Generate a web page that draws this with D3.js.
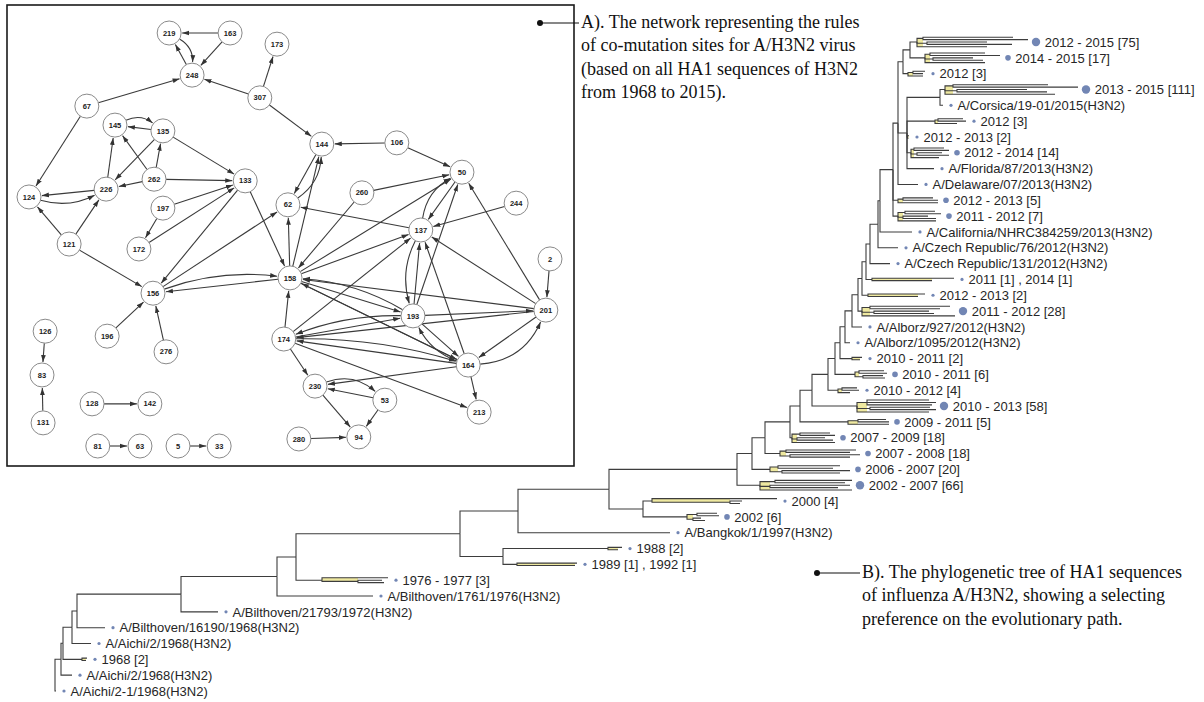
<!DOCTYPE html>
<html>
<head>
<meta charset="utf-8">
<script src="https://cdn.jsdelivr.net/npm/d3@7"></script>
<style>
  body { margin: 0; background: #fff; }
  svg { display: block; }
</style>
</head>
<body>
<svg id="fig" width="1204" height="702"></svg>
<script>
// ---------------- Panel A: co-mutation network ----------------
// node id, layout x, layout y (layout space 0..100)
const networkNodes = [
  ["219",26.9,0],["163",38.6,0],["248",31.3,10.2],["173",47.6,2.7],["307",44.3,15.7],
  ["67",11.1,17.7],["145",16.5,22.3],["135",25.7,23.7],["124",0,39.7],["226",14.8,37.8],
  ["262",24.0,35.4],["133",41.5,35.8],["197",25.7,42.4],["62",49.7,41.6],["144",56.2,26.9],
  ["106",70.6,26.6],["50",83.1,33.7],["260",63.9,38.7],["244",93.5,41.2],["137",75.2,47.7],
  ["121",7.7,51.1],["172",21.1,52.3],["156",23.8,63.0],["158",50.1,59.3],["126",3.1,72.2],
  ["83",2.5,82.8],["196",15.0,73.4],["276",26.3,77.2],["174",48.9,74.1],["128",12.1,89.8],
  ["142",23.2,89.8],["131",2.7,94.4],["81",13.2,100],["63",21.3,100],["5",28.6,100],
  ["33",36.5,100],["2",100,54.7],["193",73.7,68.5],["201",99.2,67.1],["164",84.3,80.4],
  ["230",54.9,85.5],["53",68.3,88.9],["213",86.4,91.8],["280",51.8,98.3],["94",63.3,97.8]
];

// rule: source -> target, bend (0 = straight)
const networkRules = [
  ["163","219",0],["219","248",0.3],["248","219",0],["163","248",0],["67","248",0],
  ["307","248",0],["307","173",0],["307","144",0],["67","124",0],
  ["145","135",0.3],["135","145",0],["135","226",0],["135","133",0],["262","145",0],
  ["262","135",0],["262","226",0],["262","133",0],["226","145",0],["226","124",0],
  ["124","226",-0.2],["121","124",0],["121","226",0],["121","156",0],
  ["197","133",0],["197","172",0],["172","133",0],["133","156",0],["133","158",0],
  ["196","156",0],["276","156",0],["156","158",0.12],["158","156",0],["156","62",0],
  ["144","62",0],["62","144",-0.25],["158","62",0],["158","144",0],["106","144",0],
  ["106","50",0],["260","50",0],["260","158",0],["137","62",0],["244","137",0],
  ["50","137",0],["137","50",0.25],["193","50",0],["201","50",0],["158","50",0],
  ["158","137",0],["174","137",0],["2","201",0],["201","137",0],["201","158",0],
  ["193","201",0],["201","174",0],["201","164",0],["164","201",-0.3],["164","137",0],
  ["193","137",0],["137","193",-0.2],["193","164",0],["164","193",0.2],["164","213",0],
  ["164","230",0],["164","174",0],["174","164",0.08],["158","164",0],["164","158",0],
  ["158","193",0],["193","158",-0.12],["174","193",0],["193","174",-0.1],["174","158",0],
  ["174","230",0],["174","213",0],["230","53",0.3],["53","230",0],["230","94",0],
  ["53","94",0],["280","94",0],["126","83",0],["131","83",0],["128","142",0],
  ["81","63",0],["5","33",0]
];

const captionA = [
  "A). The network representing the rules",
  "of co-mutation sites for A/H3N2 virus",
  "(based on all HA1 sequences of H3N2",
  "from 1968 to 2015)."
];
const captionB = [
  "B). The phylogenetic tree of HA1 sequences",
  "of influenza A/H3N2, showing a selecting",
  "preference on the evolutionary path."
];

// ---------------- Panel B: HA1 phylogenetic tree ----------------
// Tip / collapsed-clade labels, top to bottom (node ids L1..L42)
const leafLabels = [
  "2012 - 2015 [75]","2014 - 2015 [17]","2012 [3]","2013 - 2015 [111]",
  "A/Corsica/19-01/2015(H3N2)","2012 [3]","2012 - 2013 [2]","2012 - 2014 [14]",
  "A/Florida/87/2013(H3N2)","A/Delaware/07/2013(H3N2)","2012 - 2013 [5]","2011 - 2012 [7]",
  "A/California/NHRC384259/2013(H3N2)","A/Czech Republic/76/2012(H3N2)",
  "A/Czech Republic/131/2012(H3N2)","2011 [1] , 2014 [1]","2012 - 2013 [2]",
  "2011 - 2012 [28]","A/Alborz/927/2012(H3N2)","A/Alborz/1095/2012(H3N2)",
  "2010 - 2011 [2]","2010 - 2011 [6]","2010 - 2012 [4]","2010 - 2013 [58]",
  "2009 - 2011 [5]","2007 - 2009 [18]","2007 - 2008 [18]","2006 - 2007 [20]",
  "2002 - 2007 [66]","2000 [4]","2002 [6]","A/Bangkok/1/1997(H3N2)","1988 [2]",
  "1989 [1] , 1992 [1]","1976 - 1977 [3]","A/Bilthoven/1761/1976(H3N2)",
  "A/Bilthoven/21793/1972(H3N2)","A/Bilthoven/16190/1968(H3N2)","A/Aichi/2/1968(H3N2)",
  "1968 [2]","A/Aichi/2/1968(H3N2)","A/Aichi/2-1/1968(H3N2)"
];

// node id, parent id, branch length (x1e-4 substitutions/site); null id = unnamed tip
const treeBranches = [
  ["root",null,0],
  ["N1","root",6],["L42","root",1],
  ["N2","N1",2],["L41","N1",11],
  ["N3","N2",9],["L40","N2",19],[null,"L40",5],[null,"L40",4],
  ["N4","N3",5],["L39","N3",19],
  ["N5","N4",104],["L38","N4",28],
  ["N6","N5",96],["L37","N5",37],
  ["N7","N6",19],["L36","N6",96],
  ["N8","N7",164],["L35","N7",26],[null,"L35",66],["L35.1","L35",36],[null,"L35.1",24],[null,"L35.1",26],
  ["N9","N8",58],["N10","N8",43],
  ["N11","N9",91],["L32","N9",152],
  ["L33","N10",105],[null,"L33",14],[null,"L33",10],
  ["L34","N10",14],[null,"L34",60],[null,"L34",58],
  ["N12","N11",128],["N13","N11",34],
  ["L30","N13",9],[null,"L30",125],["L30.1","L30",78],[null,"L30.1",12],[null,"L30.1",10],
  ["L31","N13",44],["L31.1","L31",10],[null,"L31.1",20],[null,"L31.1",22],["L31.2","L31",6],[null,"L31.2",8],[null,"L31.2",12],
  ["S1","N12",15],["L29","N12",23],
  ["L29.1","L29",15],[null,"L29.1",77],[null,"L29.1",70],["L29.2","L29",10],[null,"L29.2",80],[null,"L29.2",68],[null,"L29",92],
  ["S2","S1",13],["L28","S1",18],
  ["L28.1","L28",8],[null,"L28.1",62],[null,"L28.1",55],["L28.2","L28",12],[null,"L28.2",68],[null,"L28.2",58],
  ["S3","S2",25],["L27","S2",15],
  ["L27.1","L27",6],[null,"L27.1",70],[null,"L27.1",64],["L27.2","L27",10],[null,"L27.2",70],[null,"L27.2",60],
  ["S4","S3",10],["L26","S3",2],
  ["L26.1","L26",8],[null,"L26.1",30],[null,"L26.1",35],["L26.2","L26",5],[null,"L26.2",28],[null,"L26.2",36],[null,"L26",43],
  ["S5","S4",12],["L25","S4",48],
  ["L25.1","L25",10],[null,"L25.1",28],[null,"L25.1",31],[null,"L25",41],
  ["S6","S5",16],["L24","S5",45],
  ["L24.1","L24",10],[null,"L24.1",62],[null,"L24.1",69],[null,"L24.1",65],["L24.2","L24",13],[null,"L24.2",60],[null,"L24.2",66],[null,"L24",72],
  ["S7","S6",7],["L23","S6",10],
  ["L23.1","L23",4],[null,"L23.1",15],[null,"L23.1",17],[null,"L23",12],
  ["S8","S7",5],["L22","S7",20],
  ["L22.1","L22",4],[null,"L22.1",25],[null,"L22.1",28],["L22.2","L22",8],[null,"L22.2",20],[null,"L22.2",22],
  ["S9","S8",5],["L21","S8",12],[null,"L21",10],[null,"L21",8],
  ["S10","S9",7],["L20","S9",5],
  ["S11","S10",6],["L19","S10",10],
  ["S12","S11",4],["L18","S11",4],
  ["L18.1","L18",8],[null,"L18.1",80],[null,"L18.1",70],["L18.2","L18",12],[null,"L18.2",55],[null,"L18.2",60],[null,"L18",93],
  ["S13","S12",4],["L17","S12",6],[null,"L17",57],[null,"L17",50],
  ["S14","S13",4],["L16","S13",6],[null,"L16",82],[null,"L16",60],
  ["S15","S14",8],["L15","S14",20],
  ["S16","S15",2],["L14","S15",20],
  ["S17","S16",13],["L13","S16",32],
  ["U","S17",5],
  ["L11","S17",5],["L11.1","L11",5],[null,"L11.1",30],[null,"L11.1",35],[null,"L11",40],
  ["L12","S17",5],["L12.1","L12",7],[null,"L12.1",30],[null,"L12.1",36],["L12.2","L12",5],[null,"L12.2",25],[null,"L12.2",33],[null,"L12",38],
  ["TA","U",5],["TB","U",9],["L10","U",20],
  ["TC","TA",7],["L3","TA",5],["L3.1","L3",5],[null,"L3.1",12],[null,"L3.1",10],[null,"L3",15],
  ["L1","TC",7],["L1.1","L1",6],[null,"L1.1",90],[null,"L1.1",105],["L1.2","L1",10],[null,"L1.2",60],[null,"L1.2",85],[null,"L1",70],
  ["L2","TC",15],["L2.1","L2",5],[null,"L2.1",55],[null,"L2.1",70],["L2.2","L2",8],[null,"L2.2",40],[null,"L2.2",50],[null,"L2",60],
  ["TD","TB",33],
  ["L6","TB",28],["L6.1","L6",3],[null,"L6.1",25],[null,"L6.1",28],[null,"L6",22],
  ["L7","TB",0.5],[null,"L7",1.5],[null,"L7",1],
  ["L8","TB",4],["L8.1","L8",3],[null,"L8.1",30],[null,"L8.1",35],["L8.2","L8",6],[null,"L8.2",25],[null,"L8.2",32],[null,"L8",28],
  ["L9","TB",27],
  ["L4","TD",5],["L4.1","L4",8],[null,"L4.1",95],[null,"L4.1",125],["L4.2","L4",12],[null,"L4.2",70],[null,"L4.2",90],[null,"L4",110],
  ["L5","TD",3]
];

// ---------------- drawing ----------------
const svg = d3.select("#fig");
const SANS = "'Liberation Sans', Arial, sans-serif";
const SERIF = "'Liberation Serif', 'Times New Roman', serif";

// ---- network panel ----
const box = {x: 7, y: 5, w: 567, h: 461};
svg.append("rect").attr("x", box.x).attr("y", box.y).attr("width", box.w).attr("height", box.h)
  .attr("fill", "#fff").attr("stroke", "#1a1a1a").attr("stroke-width", 1.6);

const nx = d3.scaleLinear().domain([0, 100]).range([29, 550]);
const ny = d3.scaleLinear().domain([0, 100]).range([33, 446]);
const R = 12;
const pos = new Map(networkNodes.map(([id, a, b]) => [id, {x: nx(a), y: ny(b)}]));

const defs = svg.append("defs");
defs.append("marker").attr("id", "arrow")
  .attr("viewBox", "0 -3 8 6").attr("refX", 8).attr("refY", 0)
  .attr("markerWidth", 7).attr("markerHeight", 5.4)
  .attr("markerUnits", "userSpaceOnUse").attr("orient", "auto")
  .append("path").attr("d", "M0,-2.7L8,0L0,2.7Z").attr("fill", "#333");

function unit(dx, dy) { const l = Math.hypot(dx, dy) || 1; return [dx / l, dy / l]; }

function rulePath([s, t, bend]) {
  const p = pos.get(s), q = pos.get(t);
  const dx = q.x - p.x, dy = q.y - p.y, L = Math.hypot(dx, dy);
  if (!bend) {
    const [ux, uy] = unit(dx, dy);
    return `M${p.x + ux * R},${p.y + uy * R}L${q.x - ux * (R + 1)},${q.y - uy * (R + 1)}`;
  }
  const cx = (p.x + q.x) / 2 + bend * dy, cy = (p.y + q.y) / 2 - bend * dx;
  const [ax, ay] = unit(cx - p.x, cy - p.y);
  const [bx, by] = unit(q.x - cx, q.y - cy);
  return `M${p.x + ax * R},${p.y + ay * R}Q${cx},${cy} ${q.x - bx * (R + 1)},${q.y - by * (R + 1)}`;
}

const gNet = svg.append("g");
gNet.selectAll("path.rule").data(networkRules).join("path")
  .attr("class", "rule").attr("d", rulePath)
  .attr("fill", "none").attr("stroke", "#3a3a3a").attr("stroke-width", 1.1)
  .attr("marker-end", "url(#arrow)");

const gn = gNet.selectAll("g.site").data(networkNodes).join("g")
  .attr("class", "site").attr("transform", d => `translate(${nx(d[1])},${ny(d[2])})`);
gn.append("circle").attr("r", R).attr("fill", "#fff").attr("stroke", "#8a8a8a").attr("stroke-width", 1);
gn.append("text").text(d => d[0]).attr("text-anchor", "middle").attr("dy", "0.35em")
  .attr("font-family", SANS).attr("font-weight", "bold").attr("font-size", 7.5).attr("fill", "#222");

// ---- captions ----
function caption(lines, x, y0, dotX) {
  svg.append("circle").attr("cx", dotX).attr("cy", y0 - 5).attr("r", 3).attr("fill", "#111");
  svg.append("line").attr("x1", dotX).attr("x2", x - 2).attr("y1", y0 - 5).attr("y2", y0 - 5)
    .attr("stroke", "#111").attr("stroke-width", 1.2);
  svg.append("text").attr("font-family", SERIF).attr("font-size", 18).attr("fill", "#111")
    .selectAll("tspan").data(lines).join("tspan")
    .attr("x", x).attr("y", (d, i) => y0 + i * 23.3).text(d => d);
}
caption(captionA, 581, 28, 540);
caption(captionB, 862, 578, 817);

// ---- phylogenetic tree ----
const root = d3.stratify().id(d => d[0]).parentId(d => d[1])(treeBranches);
root.eachBefore(d => { d.len = d.parent ? d.parent.len + d.data[2] : 0; });

const tx = d3.scaleLinear().domain([0, 1000]).range([55, 1055]);
const rowY = d3.scaleLinear().domain([0, leafLabels.length - 1]).range([42, 691]);
const fanGap = 2.4;

function layoutY(node) {
  const m = /^L(\d+)$/.exec(node.id || "");
  if (m) {
    node.labelIndex = +m[1] - 1;
    node.y = rowY(node.labelIndex);
    if (node.children) {
      const tips = node.leaves();
      tips.forEach((t, j) => { t.y = node.y + (j - (tips.length - 1) / 2) * fanGap; });
      node.eachAfter(d => {
        if (d !== node && d.children) d.y = (d.children[0].y + d.children[d.children.length - 1].y) / 2;
      });
    }
    return;
  }
  node.children.forEach(layoutY);
  node.y = (node.children[0].y + node.children[node.children.length - 1].y) / 2;
}
layoutY(root);

const labelled = root.descendants().filter(d => d.labelIndex !== undefined)
  .sort((a, b) => a.labelIndex - b.labelIndex);

const gTree = svg.append("g");

// shaded base of each collapsed clade
gTree.selectAll("rect.clade").data(labelled.filter(d => d.children)).join("rect")
  .attr("class", "clade")
  .attr("x", d => tx(d.len))
  .attr("width", d => tx(d.len + d3.min(d.children, c => c.data[2])) - tx(d.len))
  .attr("y", d => d3.min(d.children, c => c.y))
  .attr("height", d => Math.max(1.5, d3.max(d.children, c => c.y) - d3.min(d.children, c => c.y)))
  .attr("fill", "#efe9a0");

// branches (elbow: vertical at parent, horizontal to child)
gTree.selectAll("path.branch").data(root.descendants().filter(d => d.parent)).join("path")
  .attr("class", "branch")
  .attr("d", d => `M${tx(d.parent.len)},${d.parent.y}V${d.y}H${tx(d.len)}`)
  .attr("fill", "none").attr("stroke", "#3d3d3d").attr("stroke-width", 1.1);

// count of sequences stated in each label
const countOf = s => { const m = s.match(/\[(\d+)\]/g); return m ? d3.sum(m, v => +v.slice(1, -1)) : 1; };
const dotR = d3.scaleThreshold().domain([5, 25]).range([1.6, 2.8, 4.2]);

labelled.forEach(d => {
  const label = leafLabels[d.labelIndex];
  const end = d.children ? d3.max(d.leaves(), t => t.len) : d.len;
  const r = dotR(countOf(label));
  const dx = tx(end) + 8;
  gTree.append("circle").attr("cx", dx).attr("cy", d.y).attr("r", r).attr("fill", "#7286b4");
  gTree.append("text").attr("x", dx + Math.max(r, 2) + 4.5).attr("y", d.y).attr("dy", "0.36em")
    .attr("font-family", SANS).attr("font-size", 13).attr("fill", "#262626").text(label);
});
</script>
</body>
</html>
